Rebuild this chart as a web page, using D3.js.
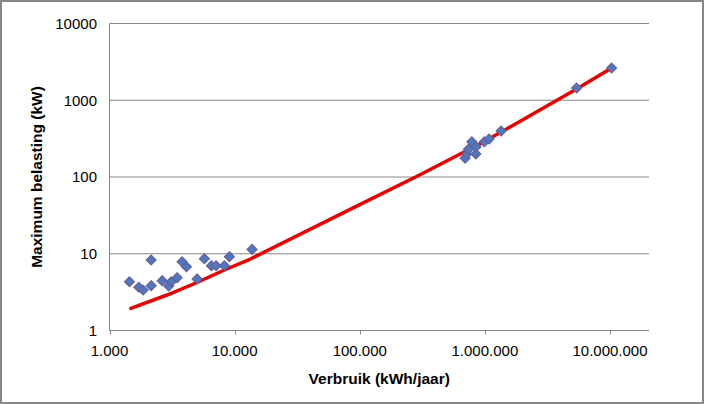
<!DOCTYPE html>
<html lang="nl">
<head>
<meta charset="UTF-8" />
<title>Verbruik en maximum belasting</title>
<script src="https://d3js.org/d3.v7.min.js"></script>
<style>
	body { margin: 0; background: #fff; }
	svg { font-family: "Liberation Sans", Arial, sans-serif; }
	.grid { stroke: #878787; stroke-width: 1; }
	.tick-label { font-size: 15px; fill: #000; }
	.title { font-size: 15.5px; font-weight: bold; fill: #000; }
</style>
</head>
<body>
<svg width="704" height="404"></svg>
<script>
	// meetpunten (kWh/jaar, kW)
	const verbruik = [
		1444, 1714, 1858, 2153, 2153, 2634, 2974, 3110, 3470, 3805, 4120, 5012,
		5730, 6520, 7110, 8280, 9080, 13780,
		695000, 718000, 739000, 787000, 847000, 850000, 991000, 1081000, 1349000,
		5410000, 10300000,
	];
	const belasting = [
		4.32, 3.66, 3.37, 8.29, 3.84, 4.46, 3.8, 4.32, 4.88, 7.88, 6.78, 4.69,
		8.62, 6.99, 6.99, 6.99, 9.16, 11.4,
		175, 199, 230, 288, 199, 248, 288, 313, 397,
		1445, 2630,
	];

	// rode lijn
	const lijnVerbruik = [1444, 2885, 5012, 8280, 13240, 100000, 290000, 908000, 1528000, 5410000, 10000000];
	const lijnBelasting = [1.91, 2.9, 4.22, 6.14, 8.47, 43.6, 103, 269, 431, 1402, 2554];

	const xTicks = [1e3, 1e4, 1e5, 1e6, 1e7];
	const yTicks = [1, 10, 100, 1000, 10000];

	const svg = d3.select("svg");

	// kader
	svg.append("rect")
		.attr("x", 1).attr("y", 1)
		.attr("width", 702).attr("height", 402)
		.attr("fill", "#fff")
		.attr("stroke", "#878787")
		.attr("stroke-width", 2);

	const xScale = d3.scaleLog().domain([1e3, 2.05e7]).range([109.5, 649]);
	const yScale = d3.scaleLog().domain([1, 1e4]).range([330.5, 23.5]);

	const nl = d3.formatLocale({ decimal: ",", thousands: ".", grouping: [3], currency: ["€", ""] });
	const fmtX = nl.format(",d");

	// horizontale rasterlijnen
	svg.append("g")
		.selectAll("line")
		.data(yTicks)
		.enter()
		.append("line")
		.classed("grid", true)
		.attr("x1", xScale.range()[0])
		.attr("x2", xScale.range()[1])
		.attr("y1", (d) => yScale(d))
		.attr("y2", (d) => yScale(d));

	// y-as
	svg.append("line")
		.classed("grid", true)
		.attr("x1", 109.5).attr("x2", 109.5)
		.attr("y1", yScale(1e4)).attr("y2", yScale(1));

	// x-as streepjes
	svg.append("g")
		.selectAll("line")
		.data(xTicks)
		.enter()
		.append("line")
		.classed("grid", true)
		.attr("x1", (d) => Math.round(xScale(d)) + 0.5)
		.attr("x2", (d) => Math.round(xScale(d)) + 0.5)
		.attr("y1", yScale(1))
		.attr("y2", yScale(1) + 4);

	svg.append("g")
		.selectAll("text")
		.data(xTicks)
		.enter()
		.append("text")
		.classed("tick-label", true)
		.attr("x", (d) => xScale(d))
		.attr("y", 356)
		.attr("text-anchor", "middle")
		.text((d) => fmtX(d));

	svg.append("g")
		.selectAll("text")
		.data(yTicks)
		.enter()
		.append("text")
		.classed("tick-label", true)
		.attr("x", 97)
		.attr("y", (d) => yScale(d))
		.attr("dy", "0.35em")
		.attr("text-anchor", "end")
		.text((d) => d);

	// titels
	svg.append("text")
		.classed("title", true)
		.attr("x", (xScale.range()[0] + xScale.range()[1]) / 2)
		.attr("y", 384)
		.attr("text-anchor", "middle")
		.text("Verbruik (kWh/jaar)");

	svg.append("text")
		.classed("title", true)
		.attr("transform", "translate(42," + (yScale(1) + yScale(1e4)) / 2 + ") rotate(-90)")
		.attr("text-anchor", "middle")
		.text("Maximum belasting (kW)");

	// lijn
	const lijn = d3.line()
		.x((d, i) => xScale(lijnVerbruik[i]))
		.y((d) => yScale(d));

	svg.append("path")
		.datum(lijnBelasting)
		.attr("d", lijn)
		.attr("fill", "none")
		.attr("stroke", "#e60000")
		.attr("stroke-width", 3.5)
		.attr("stroke-linejoin", "round");

	// punten
	const ruit = d3.symbol().type(d3.symbolDiamond2).size(60);
	svg.append("g")
		.selectAll("path")
		.data(belasting)
		.enter()
		.append("path")
		.attr("d", ruit)
		.attr("transform", (d, i) => "translate(" + xScale(verbruik[i]) + "," + yScale(d) + ")")
		.attr("fill", "#4f79bd")
		.attr("stroke", "#66609e")
		.attr("stroke-width", 1.3);
</script>
</body>
</html>
